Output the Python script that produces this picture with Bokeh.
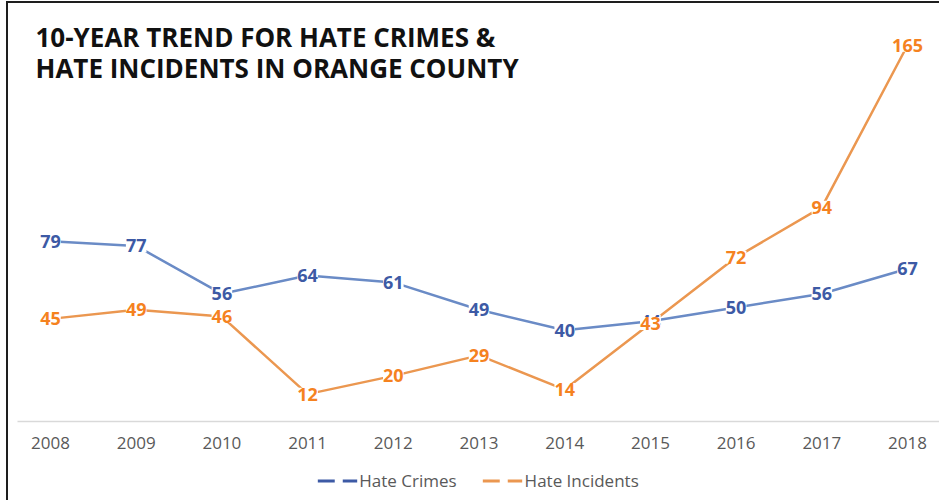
from bokeh.plotting import figure
from bokeh.layouts import column
from bokeh.core.properties import value
from bokeh.models import ColumnDataSource, LabelSet, Label, Legend, LegendItem, Range1d, FixedTicker
from bokeh.embed import file_html
from bokeh.resources import INLINE

years = [2008, 2009, 2010, 2011, 2012, 2013, 2014, 2015, 2016, 2017, 2018]
hate_crimes = [79, 77, 56, 64, 61, 49, 40, 44, 50, 56, 67]
hate_incidents = [45, 49, 46, 12, 20, 29, 14, 43, 72, 94, 165]
title_lines = ["10-YEAR TREND FOR HATE CRIMES &", "HATE INCIDENTS IN ORANGE COUNTY"]
series_names = ["Hate Crimes", "Hate Incidents"]

BLUE_LINE = "#6a8bc6"
BLUE_TEXT = "#3d5aa5"
ORANGE_LINE = "#eb9750"
ORANGE_TEXT = "#f5821f"

p = figure(width=931, height=457, output_backend="svg", toolbar_location=None,
           x_range=Range1d(2007.615, 2018.373), y_range=Range1d(0, 183.3),
           y_axis_location=None, min_border_left=9, min_border_right=0,
           min_border_top=0, min_border_bottom=39)
p.outline_line_color = None
p.xgrid.grid_line_color = None
p.ygrid.grid_line_color = None
p.background_fill_color = "white"
p.border_fill_color = "white"

src_c = ColumnDataSource(dict(x=years, y=hate_crimes, t=[str(v) for v in hate_crimes]))
src_i = ColumnDataSource(dict(x=years, y=hate_incidents, t=[str(v) for v in hate_incidents]))

p.line("x", "y", source=src_c, line_color=BLUE_LINE, line_width=2.5)
p.line("x", "y", source=src_i, line_color=ORANGE_LINE, line_width=2.5)

for src, col in [(src_c, BLUE_TEXT), (src_i, ORANGE_TEXT)]:
    ls = LabelSet(x="x", y="y", text="t", source=src, text_align="center",
                  text_baseline="middle", text_font=value("Open Sans"),
                  text_font_style="bold", text_font_size="18px", text_color=col,
                  background_fill_color="white")
    p.add_layout(ls)

# title
for txt, yy in zip(title_lines, [168.4, 155.2]):
    p.add_layout(Label(x=2007.825, y=yy, text=txt, text_font="Open Sans",
                       text_font_style="bold", text_font_size="26px",
                       text_color="#111111", text_baseline="alphabetic"))

ax = p.xaxis[0]
ax.ticker = FixedTicker(ticks=years)
ax.major_tick_line_color = None
ax.minor_tick_line_color = None
ax.axis_line_color = "#d9d9d9"
ax.axis_line_width = 1.5
ax.major_label_standoff = 9
ax.major_label_text_font = "Open Sans"
ax.major_label_text_font_size = "17px"
ax.major_label_text_color = "#595959"

# legend strip (series drawn outside its visible range; only legend shows)
p2 = figure(width=931, height=40, output_backend="svg", toolbar_location=None,
            x_range=Range1d(0, 1), y_range=Range1d(0, 1),
            x_axis_location=None, y_axis_location=None,
            min_border_left=0, min_border_right=0, min_border_top=0, min_border_bottom=0)
p2.outline_line_color = None
p2.xgrid.grid_line_color = None
p2.ygrid.grid_line_color = None
d1 = p2.line(years, hate_crimes, line_color=BLUE_TEXT, line_width=3, line_dash="17 8")
d2 = p2.line(years, hate_incidents, line_color=ORANGE_LINE, line_width=3, line_dash="17 8")
legend = Legend(items=[LegendItem(label=series_names[0], renderers=[d1]),
                       LegendItem(label=series_names[1], renderers=[d2])],
                orientation="horizontal", location="center",
                border_line_color=None, background_fill_alpha=0,
                glyph_width=40, glyph_height=20, label_standoff=2, spacing=26,
                padding=0, margin=0,
                label_text_font="Open Sans", label_text_font_size="17px",
                label_text_color="#595959")
p2.add_layout(legend)

layout = column(p, p2, spacing=0)
layout.styles = {"margin-left": "6px", "margin-top": "1px",
                 "border-left": "2px solid #1e1e1e", "border-top": "2px solid #1e1e1e"}

open("out.html", "w").write(file_html(layout, INLINE))
